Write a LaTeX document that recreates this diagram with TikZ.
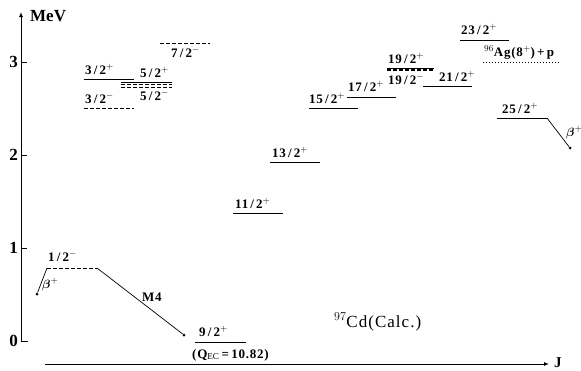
\documentclass[tikz,border=0pt]{standalone}
\usepackage{bm}
\usepackage{fontspec}
\setmainfont{Liberation Serif}
\newfontfamily\labfont[LetterSpace=6]{Liberation Serif}
\usetikzlibrary{arrows.meta}
\tikzset{
  lev/.style={line width=1pt},
  dlev/.style={line width=1pt, dash pattern=on 4pt off 2pt},
  olev/.style={line width=1pt, dotted},
  lab/.style={font=\labfont\bfseries\fontsize{13}{13}\selectfont, inner sep=0pt, anchor=base west},
  conn/.style={line width=0.7pt},
  dotend/.style={circle, fill=black, inner sep=0pt, minimum size=3pt},
  axis/.style={line width=0.9pt},
  tick/.style={font=\bfseries\fontsize{17}{17}\selectfont, anchor=east, inner sep=0pt},
}
\newcommand{\jp}[2]{#1\,/\,2$^{\mathbf{#2}}$}
\begin{document}
\begin{tikzpicture}[x=1pt,y=-1pt]
\useasboundingbox (0,0) rectangle (581,370);
% axes
\draw[axis,-{Latex[length=5pt,width=4pt]}] (28,341) -- (21,341) -- (21,12);
\node[lab, font=\bfseries\fontsize{17}{17}\selectfont] (mev) at (30,21) {MeV};
\foreach \v/\yy in {1/248,2/155,3/62}{
  \draw[axis] (21,\yy) -- (27,\yy);
  \node[tick] (t\v) at (18,\yy) {\v};
}
\node[tick] (t0) at (18,341) {0};
\draw[axis,-{Latex[length=5pt,width=4pt]}] (45,364) -- (549,364);
\node[lab, font=\bfseries\fontsize{15}{15}\selectfont] (jlab) at (554,367) {J};

% levels left group
\draw[dlev] (84,108) -- (134,108);
\node[lab] (l32m) at (85,103) {\jp{3}{-}};
\draw[lev] (84,79) -- (134,79);
\node[lab] (l32p) at (85,74) {\jp{3}{+}};
\draw[lev] (121,82) -- (172,82);
\draw[dlev] (121,84.5) -- (172,84.5);
\draw[dlev] (121,87) -- (172,87);
\node[lab] (l52p) at (140,77) {\jp{5}{+}};
\node[lab] (l52m) at (140,100) {\jp{5}{-}};
\draw[dlev] (160,43) -- (210,43);
\node[lab] (l72m) at (171,57) {\jp{7}{-}};

% 1/2- and transitions
\coordinate (h1) at (47,268);
\coordinate (h2) at (97,268);
\draw[dlev] (h1) -- (h2);
\node[lab] (l12m) at (48,261) {1\,/\,2$^{-}$};
\node[dotend] (b1) at (37,294) {};
\draw[conn] (h1) -- (b1);
\node[lab] (beta1) at (42,288) {$\bm{\beta}^{+}$};
\node[dotend] (g1) at (184,335) {};
\draw[conn] (h2) -- (g1);
\node[lab] (m4) at (142,301) {M4};

% ground state
\draw[lev] (195,342) -- (246,342);
\node[lab] (l92p) at (199,336) {\jp{9}{+}};
\node[lab] (qec) at (192,358) {(Q$_{\mathrm{EC}}$\,=\,10.82)};

% yrast
\draw[lev] (233,213) -- (283,213);
\node[lab] (l112) at (235,208) {\jp{11}{+}};
\draw[lev] (270,162) -- (320,162);
\node[lab] (l132) at (272,157) {\jp{13}{+}};
\draw[lev] (309,108) -- (358,108);
\node[lab] (l152) at (309,103) {\jp{15}{+}};
\draw[lev] (347,97) -- (396,97);
\node[lab] (l172) at (348,91) {\jp{17}{+}};
\draw[lev] (387,68) -- (434,68);
\draw[dlev, line width=1.3pt] (387,70) -- (434,70);
\node[lab] (l192p) at (388,63) {\jp{19}{+}};
\node[lab] (l192m) at (388,84) {\jp{19}{-}};
\draw[lev] (423,86) -- (472,86);
\node[lab] (l212) at (439,81) {\jp{21}{+}};
\draw[lev] (460,40) -- (509,40);
\node[lab] (l232) at (461,34) {\jp{23}{+}};
\draw[olev] (483,62) -- (559,62);
\node[lab] (ag) at (484,56) {$^{96}$Ag(8$^{+}$)\,+\,p};
\coordinate (h25a) at (497,118);
\coordinate (h25b) at (547,118);
\draw[lev] (h25a) -- (h25b);
\node[lab] (l252) at (502,113) {\jp{25}{+}};
\node[dotend] (b2) at (570,148) {};
\draw[conn] (h25b) -- (b2);
\node[lab] (beta2) at (566,136) {$\bm{\beta}^{+}$};

\node[lab, font=\labfont\fontsize{17}{17}\selectfont] (cd) at (334,327) {$^{97}$Cd(Calc.)};
\end{tikzpicture}
\end{document}
